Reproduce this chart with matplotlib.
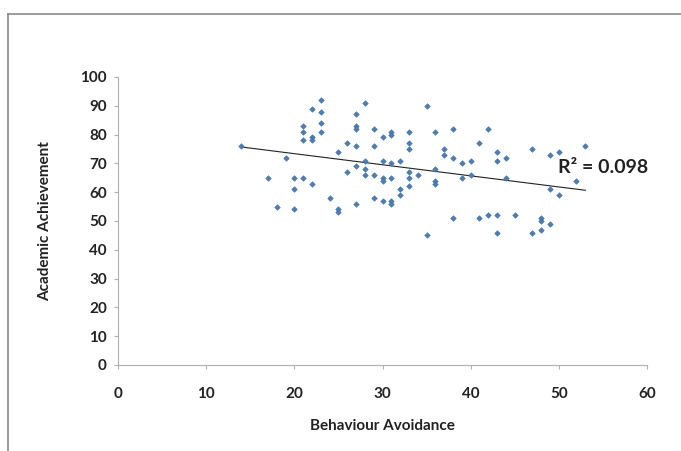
import matplotlib
matplotlib.use("Agg")
import matplotlib.pyplot as plt
from matplotlib.lines import Line2D
import numpy as np

behaviour_avoidance = [
    14, 17, 18, 19,
    20, 20, 20,
    21, 21, 21, 21,
    22, 22, 22, 22,
    23, 23, 23, 23,
    24,
    25, 25, 25,
    26, 26,
    27, 27, 27, 27, 27, 27,
    28, 28, 28, 28,
    29, 29, 29, 29,
    30, 30, 30, 30, 30,
    31, 31, 31, 31, 31, 31,
    32, 32, 32,
    33, 33, 33, 33, 33, 33,
    34,
    35, 35,
    36, 36, 36, 36,
    37, 37,
    38, 38, 38,
    39, 39,
    40, 40,
    41, 41,
    42, 42,
    43, 43, 43, 43,
    44, 44,
    45,
    47, 47,
    48, 48, 48,
    49, 49, 49,
    50, 50,
    52, 53,
]
academic_achievement = [
    76, 65, 55, 72,
    65, 61, 54,
    83, 81, 78, 65,
    89, 79, 78, 63,
    92, 88, 84, 81,
    58,
    74, 54, 53,
    77, 67,
    87, 83, 82, 76, 69, 56,
    91, 71, 68, 66,
    82, 76, 66, 58,
    79, 71, 65, 64, 57,
    81, 80, 70, 65, 57, 56,
    71, 61, 59,
    81, 77, 75, 67, 65, 62,
    66,
    90, 45,
    81, 68, 64, 63,
    75, 73,
    82, 72, 51,
    70, 65,
    71, 66,
    77, 51,
    82, 52,
    74, 71, 52, 46,
    72, 65,
    52,
    75, 46,
    51, 50, 47,
    73, 61, 49,
    74, 59,
    64, 76,
]
x_ticks = [0, 10, 20, 30, 40, 50, 60]
y_ticks = [0, 10, 20, 30, 40, 50, 60, 70, 80, 90, 100]
x_label = "Behaviour Avoidance"
y_label = "Academic Achievement"
r2_text = "R² = 0.098"

plt.rcParams['font.family'] = ['Lato', 'DejaVu Sans']

fig = plt.figure(figsize=(6.81, 4.51), dpi=100)
fig.patch.set_facecolor("white")
ax = fig.add_axes([118/681, 1-365/451, (647-118)/681, (365-77)/451])

x = np.array(behaviour_avoidance, dtype=float)
y = np.array(academic_achievement, dtype=float)
ax.scatter(x, y, marker="D", s=8, color="#4a7ebb", edgecolors="#3f6fa8", linewidths=0.4, zorder=3)

slope, intercept = np.polyfit(x, y, 1)
xl = np.array([x.min(), x.max()])
ax.plot(xl, slope*xl + intercept, color="#222222", lw=0.8, zorder=2)

ax.set_xlim(0, 60)
ax.set_ylim(0, 100)
ax.set_xticks(x_ticks)
ax.set_yticks(y_ticks)
ax.set_xticklabels([str(v) for v in x_ticks], fontweight="bold", fontsize=11)
ax.set_yticklabels([str(v) for v in y_ticks], fontweight="bold", fontsize=11)
for s in ["top", "right"]:
    ax.spines[s].set_visible(False)
for s in ["left", "bottom"]:
    ax.spines[s].set_color("#b0b0b0")
    ax.spines[s].set_linewidth(0.8)
ax.tick_params(axis="both", direction="out", length=3, color="#b0b0b0", width=0.8, pad=5, labelcolor="#222222")
ax.tick_params(axis="x", pad=13)

ax.set_xlabel(x_label, fontweight="bold", fontsize=11, labelpad=13, color="#222222")
ax.set_ylabel(y_label, fontweight="bold", fontsize=11, labelpad=20, color="#222222")

ax.text(49.9, 68.5, r2_text, fontsize=14, fontweight="bold", color="#222222", ha="left", va="center")

# outer chart border (top and left visible)
fig.add_artist(Line2D([8/681, 1.0], [1-14/451, 1-14/451], transform=fig.transFigure, color="#8a8a8a", lw=1.2))
fig.add_artist(Line2D([8/681, 8/681], [0, 1-14/451], transform=fig.transFigure, color="#8a8a8a", lw=1.2))

fig.savefig("out.png", dpi=100, facecolor="white")
